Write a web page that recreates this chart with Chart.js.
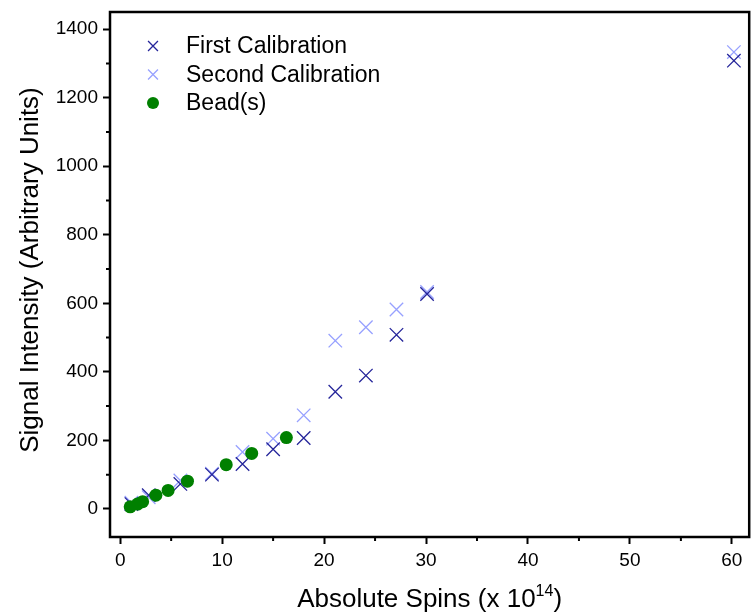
<!DOCTYPE html>
<html>
<head>
<meta charset="utf-8">
<script src="https://cdn.jsdelivr.net/npm/chart.js@4.4.0/dist/chart.umd.min.js"></script>
<style>
  body { margin: 0; background: #fff; overflow: hidden; }
  #wrap { width: 751px; height: 615px; overflow: hidden; }
</style>
</head>
<body>
<!-- canvas is a bit wider than the page: Chart.js keeps ~11px free on the right -->
<div id="wrap"><canvas id="spinChart" width="760" height="615"></canvas></div>
<script>
// calibration spins (x 10^14) and signals
const calSpins = [1.1, 2.8, 5.9, 9.0, 12.0, 15.0, 18.0, 21.1, 24.1, 27.1, 30.1, 60.2];
const firstCal = [14, 40, 73, 100, 131, 174, 207, 342, 389, 508, 627, 1308];
const secondCal = [18, 34, 83, 103, 166, 205, 273, 491, 530, 582, 633, 1333];
const beadSpins = [0.98, 1.7, 2.2, 3.5, 4.7, 6.6, 10.4, 12.9, 16.3];
const beadSignal = [6, 14, 21, 40, 54, 81, 129, 162, 208];

const xTicks = [0, 10, 20, 30, 40, 50, 60];
const yTicks = [0, 200, 400, 600, 800, 1000, 1200, 1400];

const FONT = "'Liberation Sans', Arial, sans-serif";
const darkBlue = '#25259a';
const lightBlue = '#97a1ff';
const green = '#008000';

function toPoints(xs, ys) {
  return xs.map((x, i) => ({ x: x, y: ys[i] }));
}

// frame, minor ticks, x labels, titles and legend
const decorations = {
  id: 'decorations',
  afterDraw(chart) {
    const ctx = chart.ctx;
    const a = chart.chartArea;
    const xs = chart.scales.x, ys = chart.scales.y;
    ctx.save();
    ctx.strokeStyle = '#000';
    ctx.lineWidth = 2.5;
    ctx.strokeRect(a.left, a.top, a.right - a.left, a.bottom - a.top);

    // minor ticks
    ctx.lineWidth = 2;
    ctx.beginPath();
    for (let i = 0; i < xTicks.length - 1; i++) {
      const px = xs.getPixelForValue((xTicks[i] + xTicks[i + 1]) / 2);
      ctx.moveTo(px, a.bottom);
      ctx.lineTo(px, a.bottom + 4);
    }
    for (let i = 0; i < yTicks.length - 1; i++) {
      const py = ys.getPixelForValue((yTicks[i] + yTicks[i + 1]) / 2);
      ctx.moveTo(a.left, py);
      ctx.lineTo(a.left - 4, py);
    }
    ctx.stroke();

    // x tick labels
    ctx.fillStyle = '#000';
    ctx.font = '19px ' + FONT;
    ctx.textAlign = 'center';
    ctx.textBaseline = 'middle';
    xTicks.forEach(v => {
      ctx.fillText(String(v), xs.getPixelForValue(v), a.bottom + 24);
    });

    // x title with superscript
    ctx.textBaseline = 'alphabetic';
    const main = 'Absolute Spins (x 10';
    const sup = '14';
    ctx.font = '26px ' + FONT;
    const w1 = ctx.measureText(main).width;
    const w3 = ctx.measureText(')').width;
    ctx.font = '16px ' + FONT;
    const w2 = ctx.measureText(sup).width;
    let tx = (a.left + a.right) / 2 - (w1 + w2 + w3) / 2;
    const base = 607;
    ctx.font = '26px ' + FONT;
    ctx.textAlign = 'left';
    ctx.fillText(main, tx, base);
    ctx.font = '16px ' + FONT;
    ctx.fillText(sup, tx + w1, base - 11);
    ctx.font = '26px ' + FONT;
    ctx.fillText(')', tx + w1 + w2, base);

    // y title
    ctx.save();
    ctx.translate(31, 270);
    ctx.rotate(-Math.PI / 2);
    ctx.textAlign = 'center';
    ctx.textBaseline = 'middle';
    ctx.fillText('Signal Intensity (Arbitrary Units)', 0, 0);
    ctx.restore();

    // legend
    const items = chart.data.datasets;
    const order = [1, 2, 0];
    ctx.font = '23px ' + FONT;
    ctx.textAlign = 'left';
    ctx.textBaseline = 'middle';
    order.forEach((di, k) => {
      const ds = items[di];
      const y = 46 + k * 28.5;
      ctx.strokeStyle = ds.borderColor;
      ctx.fillStyle = ds.backgroundColor;
      ctx.lineWidth = ds.borderWidth;
      Chart.helpers.drawPoint(ctx, {
        pointStyle: ds.pointStyle,
        radius: ds.pointStyle === 'circle' ? 6 : 7,
        borderWidth: ds.borderWidth,
        rotation: 0
      }, 153, y);
      ctx.fillStyle = '#000';
      ctx.fillText(ds.label, 186, y + 1);
    });
    ctx.restore();
  }
};

const ctx = document.getElementById('spinChart').getContext('2d');
const spinChart = new Chart(ctx, {
  type: 'scatter',
  data: {
    datasets: [
      {
        label: 'Bead(s)',
        data: toPoints(beadSpins, beadSignal),
        pointStyle: 'circle',
        pointRadius: 6.5,
        borderWidth: 0,
        borderColor: green,
        backgroundColor: green,
        order: 0
      },
      {
        label: 'First Calibration',
        data: toPoints(calSpins, firstCal),
        pointStyle: 'crossRot',
        pointRadius: 9.5,
        borderWidth: 1.3,
        borderColor: darkBlue,
        backgroundColor: darkBlue,
        order: 1
      },
      {
        label: 'Second Calibration',
        data: toPoints(calSpins, secondCal),
        pointStyle: 'crossRot',
        pointRadius: 9.5,
        borderWidth: 1.3,
        borderColor: lightBlue,
        backgroundColor: lightBlue,
        order: 2
      }
    ]
  },
  options: {
    responsive: false,
    animation: false,
    layout: { padding: { top: 12, right: 2, left: 0, bottom: 0 } },
    plugins: {
      legend: { display: false },
      tooltip: { enabled: false }
    },
    scales: {
      x: {
        type: 'linear',
        min: -1,
        max: 61.7,
        afterBuildTicks: axis => { axis.ticks = xTicks.map(v => ({ value: v })); },
        afterFit: axis => {
          axis.height = 78;
          axis.paddingLeft = 0;
          axis.paddingRight = 0;
        },
        border: { display: false },
        grid: {
          drawOnChartArea: false,
          drawTicks: true,
          tickLength: 7,
          tickWidth: 2,
          tickColor: '#000'
        },
        ticks: { display: false }
      },
      y: {
        type: 'linear',
        min: -82,
        max: 1450,
        afterBuildTicks: axis => { axis.ticks = yTicks.map(v => ({ value: v })); },
        afterFit: axis => {
          axis.width = 110;
          axis.paddingTop = 0;
          axis.paddingBottom = 0;
        },
        border: { display: false },
        grid: {
          drawOnChartArea: false,
          drawTicks: true,
          tickLength: 7,
          tickWidth: 2,
          tickColor: '#000'
        },
        ticks: {
          color: '#000',
          padding: 5,
          font: { family: FONT, size: 19 },
          callback: v => String(v)
        }
      }
    }
  },
  plugins: [decorations]
});
</script>
</body>
</html>
